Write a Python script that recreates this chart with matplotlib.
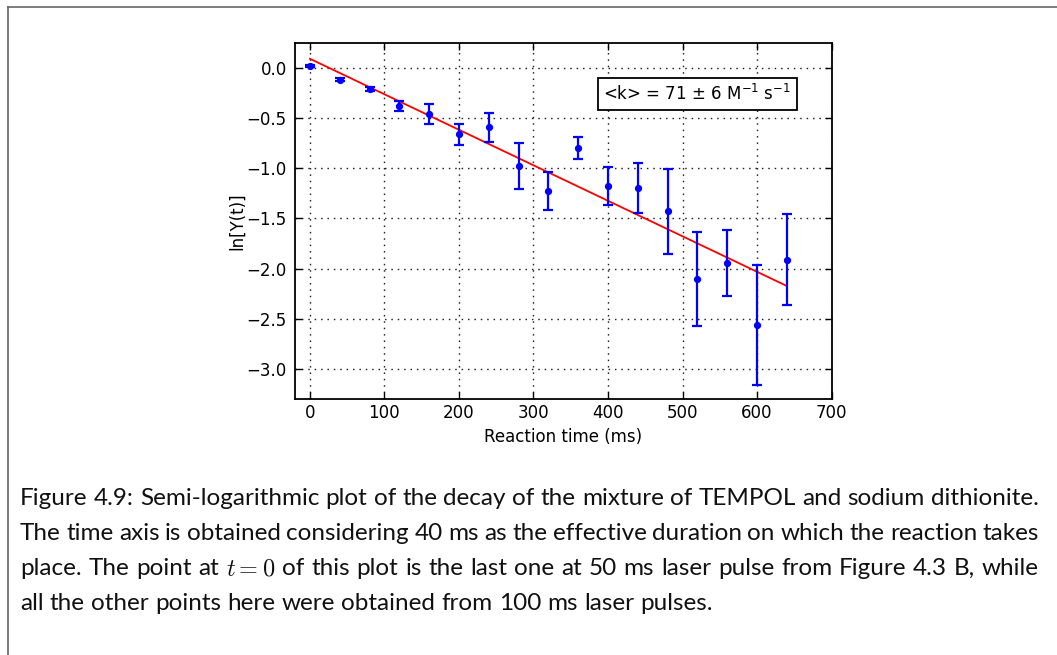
import matplotlib
matplotlib.use("Agg")
import matplotlib.pyplot as plt
from matplotlib.lines import Line2D
from matplotlib import font_manager as fm
import numpy as np

# ---- data ----
reaction_time = [0, 40, 80, 120, 160, 200, 240, 280, 320, 360, 400, 440, 480, 520, 560, 600, 640]
ln_y = [0.02, -0.12, -0.21, -0.38, -0.46, -0.66, -0.59, -0.98, -1.23, -0.80, -1.18, -1.20,
        -1.43, -2.10, -1.94, -2.56, -1.91]
ln_y_err = [0.01, 0.015, 0.02, 0.045, 0.095, 0.105, 0.145, 0.23, 0.19, 0.11, 0.19, 0.25,
            0.42, 0.47, 0.33, 0.60, 0.45]
fit_intercept = 0.09
fit_slope = -0.003535
x_ticks = [0, 100, 200, 300, 400, 500, 600, 700]
y_ticks = [0.0, -0.5, -1.0, -1.5, -2.0, -2.5, -3.0]
annotation = "<k> = 71 $\\pm$ 6 M$^{-1}$ s$^{-1}$"
x_label = "Reaction time (ms)"
y_label = "ln[Y(t)]"
caption_lines = [
    "Figure 4.9: Semi-logarithmic plot of the decay of the mixture of TEMPOL and sodium dithionite.",
    "The time axis is obtained considering 40 ms as the effective duration on which the reaction takes",
    "place. The point at $t=0$ of this plot is the last one at 50 ms laser pulse from Figure 4.3 B, while",
    "all the other points here were obtained from 100 ms laser pulses.",
]

W, H = 1057, 655
DPI = 100
fig = plt.figure(figsize=(W / DPI, H / DPI), dpi=DPI, facecolor="white")
plt.rcParams["font.family"] = ["DejaVu Sans"]
plt.rcParams["mathtext.fontset"] = "dejavusans"

def fx(px):
    return px / W

def fy(py):
    return 1 - py / H

ax = fig.add_axes([fx(295), fy(399.3), fx(831.6 - 295), (399.3 - 42.7) / H])

fit_x = np.array([reaction_time[0], reaction_time[-1]], dtype=float)
ax.plot(fit_x, fit_intercept + fit_slope * fit_x, color="red", lw=1.3, zorder=2)
ax.errorbar(reaction_time, ln_y, yerr=ln_y_err, fmt="o", color="blue", ms=4.2,
            mec="blue", elinewidth=1.6, capsize=3.8, capthick=1.6, zorder=3)

ax.set_xlim(-20, 700)
ax.set_ylim(-3.3, 0.25)
ax.set_xticks(x_ticks)
ax.set_yticks(y_ticks)
ax.set_xticklabels([str(v) for v in x_ticks])
ax.set_yticklabels([f"{v:.1f}".replace("-", "\u2212") for v in y_ticks])
ax.tick_params(direction="in", length=5, width=1, top=True, right=True, labelsize=12)
ax.tick_params(axis="x", pad=3.5)
ax.tick_params(axis="y", pad=6)
ax.grid(True, color="#222222", linestyle=(0, (1.1, 3.5)), linewidth=1.0)
for s in ax.spines.values():
    s.set_linewidth(1.3)
ax.set_xlabel(x_label, fontsize=12, labelpad=4.5)
ax.set_ylabel(y_label, fontsize=12, labelpad=0)

ax.text(520, -0.264, annotation, fontsize=12, ha="center", va="center",
        bbox=dict(boxstyle="square,pad=0.35", facecolor="white", edgecolor="black", linewidth=1.3),
        zorder=5)

# ---- page frame ----
fig.add_artist(Line2D([fx(7.5), fx(7.5)], [fy(7), 0], transform=fig.transFigure,
                      color="#666666", lw=1.2))
fig.add_artist(Line2D([fx(7.5), 1], [fy(7), fy(7)], transform=fig.transFigure,
                      color="#666666", lw=1.2))

# ---- caption (justified) ----
names = {f.name for f in fm.fontManager.ttflist}
cap_font = "Lato" if "Lato" in names else "DejaVu Sans"
renderer = fig.canvas.get_renderer()

def width_of(s, size):
    t = fig.text(0, 0, s, fontsize=size, family=cap_font, math_fontfamily="cm")
    w = t.get_window_extent(renderer).width
    t.remove()
    return w

left_px, right_px = 20, 1039
target = right_px - left_px
size = 16.0
nat = width_of(caption_lines[0], size)
size = size * target / nat

baselines = [505, 540, 575, 610]
space_w = width_of("x x", size) - width_of("xx", size)
for i, line in enumerate(caption_lines):
    words = line.split(" ")
    widths = [width_of(w, size) for w in words]
    if i < len(caption_lines) - 1:
        gap = (target - sum(widths)) / (len(words) - 1)
    else:
        gap = space_w
    x = left_px
    for w, wd in zip(words, widths):
        fig.text(fx(x), fy(baselines[i]), w, fontsize=size, family=cap_font,
                 math_fontfamily="cm", va="baseline", ha="left", color="#111111")
        x += wd + gap

fig.savefig("out.png", dpi=DPI, facecolor="white")
